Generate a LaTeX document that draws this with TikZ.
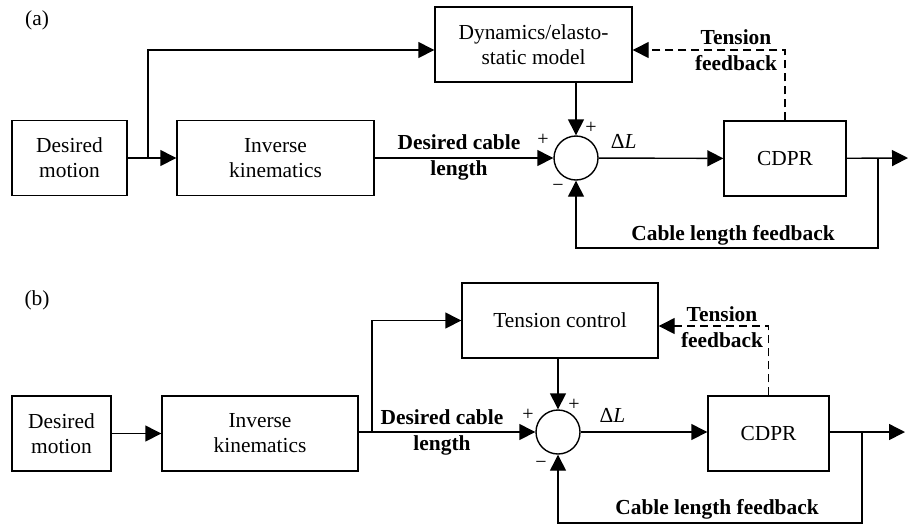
\documentclass[tikz,border=0pt]{standalone}
\usepackage{fontspec}
\setmainfont{Liberation Serif}
\usetikzlibrary{arrows.meta}
\begin{document}
\begin{tikzpicture}[x=0.5pt, y=-0.5pt, line width=0.7pt, line join=miter,
    >={Triangle[length=8pt,width=8pt]},
    font=\fontsize{10.7pt}{12.5pt}\selectfont,
    blk/.style={draw, rectangle, align=center, inner sep=1pt, minimum height=37.5pt},
    sumnode/.style={draw, circle, minimum size=22pt, inner sep=0pt},
    lbl/.style={font=\fontsize{10.7pt}{13pt}\selectfont\bfseries, align=center},
    sgn/.style={inner sep=0pt, font=\fontsize{10pt}{10pt}\selectfont},
    fbline/.style={dashed, dash pattern=on 4pt off 2.5pt}]
\useasboundingbox (0,0) rectangle (908,527);

% ---------------- (a) ----------------
\node (tagA) at (37,20) {(a)};

% Các khối
\node[blk, minimum width=57.5pt] (motA) at (69.5,158) {Desired\\motion};
\node[blk, minimum width=98.5pt] (ikA) at (275.5,158) {Inverse\\kinematics};
\node[blk, minimum width=98.5pt] (dynA) at (533.5,44.5) {Dynamics/elasto-\\static model};
\node[sumnode] (sumA) at (576,158) {};
\node[blk, minimum width=61pt] (cdprA) at (785,158.5) {CDPR};
\coordinate (brA) at (148,158);
\coordinate (fbA) at (878,158);
\coordinate (fbAlow) at (878,248);
\coordinate (outA) at (908,158);

% Đường nối
\draw[->] (motA) -- (ikA);
\draw[->] (brA) |- ([yshift=-2.75pt]dynA.west);
\draw[->] (ikA) -- (sumA);
\draw[->] (dynA.south -| sumA) -- (sumA.north);
\draw[->] (sumA) -- (cdprA) node[pos=0.2, above=1pt] {Δ\textit{L}};
\draw[->] (cdprA) -- (outA);
\draw[->] (fbA) -- (fbAlow) -| (sumA.south);
\draw[fbline, ->] (cdprA.north) |- ([yshift=-2.75pt]dynA.east);

% Nhãn
\node[lbl] (dclA) at (459,157) {Desired cable\\length};
\node[lbl] (tfbA) at (736,50) {Tension\\feedback};
\node[lbl] (clfA) at (733,235) {Cable length feedback};
\node[sgn] (pA1) at (543,140) {+};
\node[sgn] (pA2) at (591,128) {+};
\node[sgn] (mA) at (558,188) {−};

% ---------------- (b) ----------------
\node (tagB) at (37,300) {(b)};

% Các khối
\node[blk, minimum width=49.5pt] (motB) at (61.5,433.5) {Desired\\motion};
\node[blk, minimum width=98pt] (ikB) at (260,433.5) {Inverse\\kinematics};
\node[blk, minimum width=98pt] (tenB) at (560,320.5) {Tension control};
\node[sumnode] (sumB) at (558,432) {};
\node[blk, minimum width=60.5pt] (cdprB) at (768.5,433.5) {CDPR};
\coordinate (brB) at (372,432);
\coordinate (fbB) at (862,432);
\coordinate (fbBlow) at (862,523);
\coordinate (outB) at (905,432);

% Đường nối
\draw[->] (motB) -- (ikB);
\draw[->] (ikB.east |- sumB) -- (sumB);
\draw[->] (brB) |- (tenB.west);
\draw[->] (sumB |- tenB.south) -- (sumB.north);
\draw[->] (sumB) -- (cdprB.west |- sumB) node[pos=0.25, above=1pt] {Δ\textit{L}};
\draw[->] (cdprB.east |- sumB) -- (outB);
\draw[->] (fbB) -- (fbBlow) -| (sumB.south);
\draw[fbline, ->] (cdprB.north) |- ([yshift=-2.75pt]tenB.east);

% Nhãn
\node[lbl] (dclB) at (442,432) {Desired cable\\length};
\node[lbl] (tfbB) at (722,327) {Tension\\feedback};
\node[lbl] (clfB) at (717,509) {Cable length feedback};
\node[sgn] (pB1) at (528,415) {+};
\node[sgn] (pB2) at (574,405) {+};
\node[sgn] (mB) at (541,465) {−};
\end{tikzpicture}
\end{document}
